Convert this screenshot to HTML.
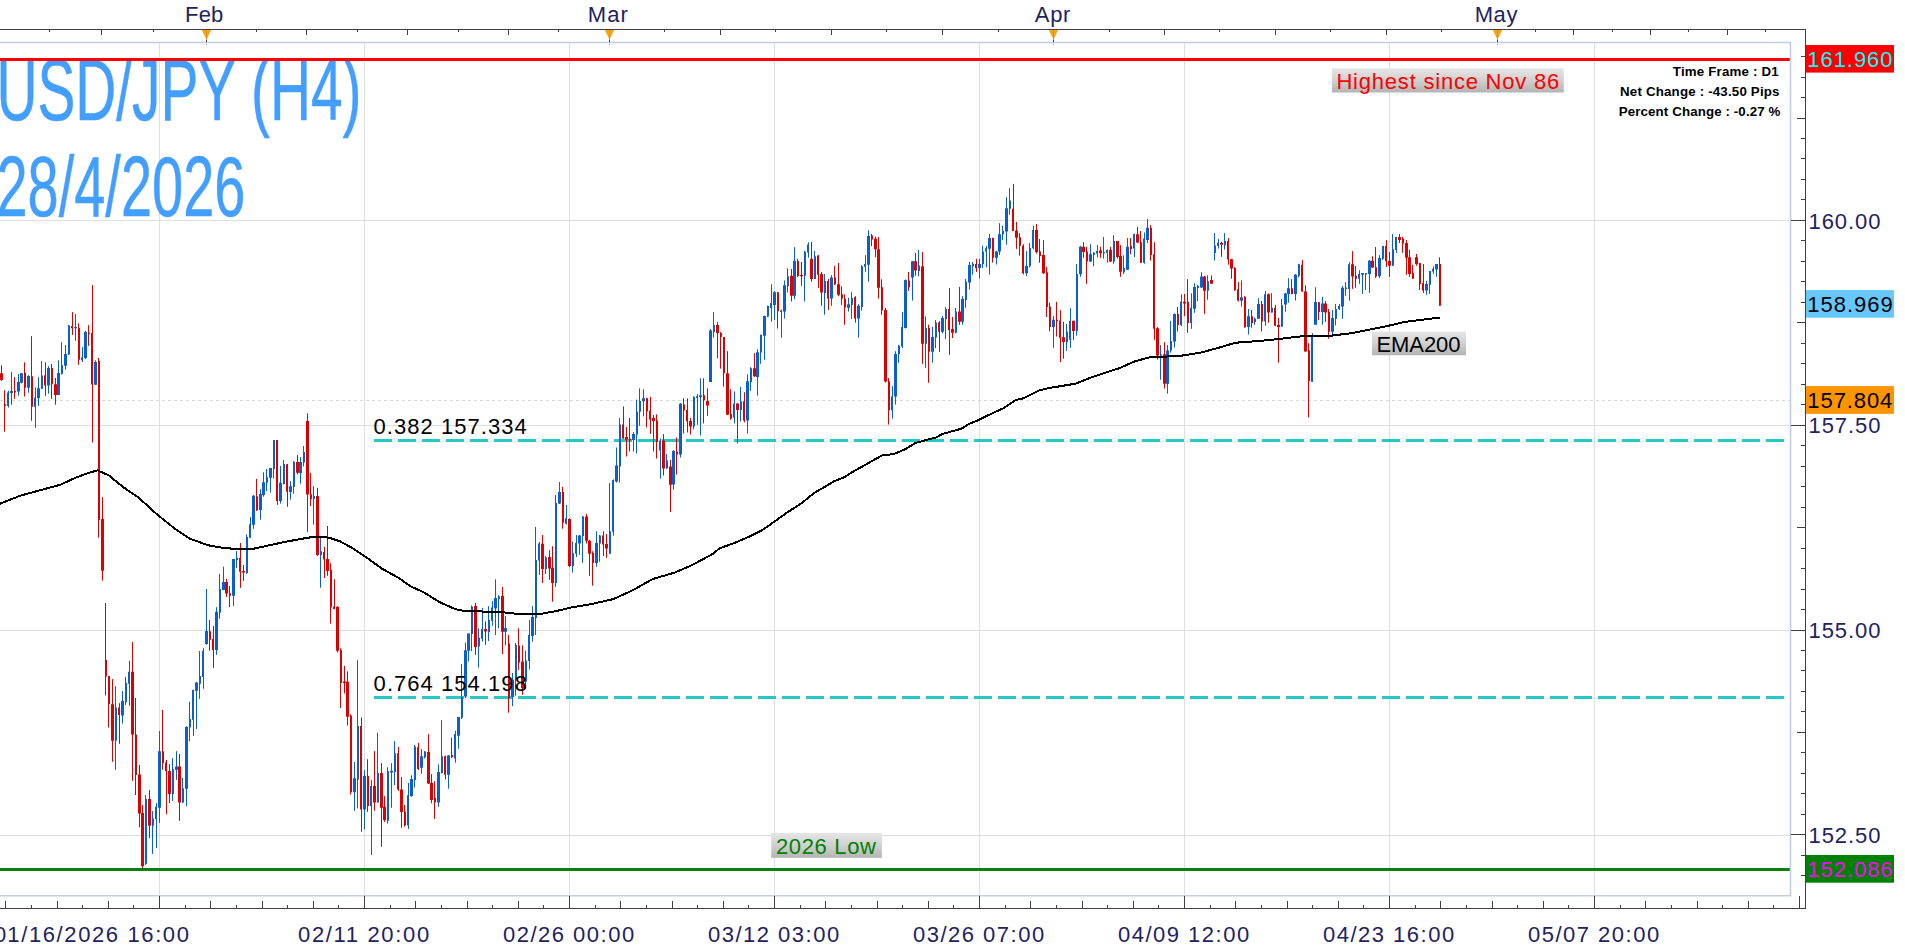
<!DOCTYPE html>
<html><head><meta charset="utf-8"><title>USD/JPY (H4)</title>
<style>
html,body{margin:0;padding:0;background:#fff;overflow:hidden}
body{width:1905px;height:947px;position:relative;font-family:"Liberation Sans",sans-serif}
svg text{font-family:"Liberation Sans",sans-serif}
</style></head><body>
<svg width="1905" height="947" viewBox="0 0 1905 947" style="position:absolute;left:0;top:0;display:block" font-family="Liberation Sans, sans-serif">
<defs>
<linearGradient id="gl" x1="0" y1="0" x2="0" y2="1"><stop offset="0" stop-color="#e6e6e6"/><stop offset="0.5" stop-color="#d0d0d0"/><stop offset="1" stop-color="#b4b4b4"/></linearGradient>
<clipPath id="plot"><rect x="0" y="43" width="1790" height="852.5"/></clipPath>
<clipPath id="tclip"><rect x="0" y="59" width="600" height="300"/></clipPath>
</defs>
<rect x="0" y="0" width="1905" height="947" fill="#ffffff"/>
<path d="M159.5 43V895 M364.5 43V895 M569.5 43V895 M774.5 43V895 M979.5 43V895 M1184.5 43V895 M1389.5 43V895 M1594.5 43V895 M0 220.5H1790 M0 425.5H1790 M0 630.5H1790 M0 835.5H1790" stroke="#dedede" stroke-width="1" fill="none" shape-rendering="crispEdges"/>
<path d="M0 400.5H1790" stroke="#d8d8d8" stroke-width="1" stroke-dasharray="3 3" fill="none" shape-rendering="crispEdges"/>
<g font-family="Liberation Sans" fill="#429eff" stroke="#429eff" stroke-width="0.5" clip-path="url(#tclip)">
<text x="-3.6" y="120" font-size="86.6" textLength="365" lengthAdjust="spacingAndGlyphs">USD/JPY (H4)</text>
<text x="-3.6" y="215.7" font-size="85.5" textLength="249" lengthAdjust="spacingAndGlyphs">28/4/2026</text>
</g>
<path d="M374 440.5H1785" stroke="#27c7c6" stroke-width="3" stroke-dasharray="18 6" fill="none" shape-rendering="crispEdges"/>
<path d="M374 697.5H1785" stroke="#27c7c6" stroke-width="3" stroke-dasharray="18 6" fill="none" shape-rendering="crispEdges"/>
<g clip-path="url(#plot)"><path d="M1.5 365.3V380.9M4.5 390.2V431.6M14.5 377.2V398.8M24.5 362.3V396.6M31.5 336.1V420.8M45.5 362.3V395.8M51.5 364.0V398.8M55.5 378.0V404.7M72.5 312.1V334.9M78.5 323.4V364.8M88.5 325.1V345.9M92.5 285.1V442.5M98.5 358.0V537.7M102.5 497.2V580.6M105.5 603.0V695.5M108.5 676.0V727.5M112.5 679.1V761.8M119.5 703.2V743.8M132.5 641.9V780.8M135.5 698.0V795.0M139.5 765.1V827.3M142.5 805.0V868.0M149.5 789.9V838.0M162.5 710.0V769.8M166.5 759.9V814.2M169.5 764.1V803.0M179.5 754.0V820.9M209.5 619.9V650.7M213.5 625.9V667.9M226.5 578.9V597.0M229.5 586.0V607.1M240.5 543.0V587.8M243.5 565.0V580.9M256.5 478.9V511.0M277.5 440.1V504.8M287.5 463.9V506.8M297.5 454.9V474.4M307.5 413.2V531.8M310.5 473.0V506.0M317.5 487.9V556.0M324.5 546.9V578.0M327.5 526.0V575.8M330.5 563.3V623.6M334.5 579.3V609.3M337.5 606.1V652.4M340.5 648.3V708.1M344.5 666.0V693.4M347.5 671.4V725.5M350.5 714.3V794.5M361.5 717.4V831.7M367.5 759.2V811.9M374.5 751.1V810.8M381.5 763.1V846.8M384.5 796.1V821.9M398.5 746.9V791.0M401.5 777.1V827.7M404.5 805.0V826.6M418.5 742.9V770.1M428.5 734.1V784.1M431.5 774.1V803.3M434.5 781.3V818.9M445.5 755.5V779.4M451.5 737.6V758.0M475.5 603.0V654.9M485.5 621.3V644.8M502.5 586.9V654.0M508.5 635.0V712.7M518.5 628.3V670.1M522.5 645.4V694.8M542.5 535.0V583.0M549.5 550.1V579.9M552.5 546.2V601.8M562.5 486.9V528.7M569.5 518.3V567.2M586.5 513.9V543.5M589.5 539.9V575.8M592.5 551.2V585.6M603.5 531.3V556.0M606.5 534.0V557.8M623.5 406.4V438.5M626.5 427.0V456.5M629.5 418.0V451.5M646.5 397.7V427.4M650.5 396.9V433.9M653.5 415.0V451.5M656.5 414.4V458.5M663.5 434.1V475.6M670.5 459.9V512.0M676.5 437.5V474.6M683.5 398.3V433.5M687.5 398.3V432.5M690.5 418.0V434.5M703.5 378.3V423.4M707.5 388.3V415.8M717.5 322.1V358.2M720.5 332.1V368.6M723.5 337.1V386.7M727.5 351.2V414.8M730.5 389.3V419.8M737.5 403.4V443.5M744.5 392.3V422.4M754.5 353.2V376.9M777.5 292.2V328.5M791.5 268.9V301.5M797.5 258.8V276.8M801.5 262.0V285.8M811.5 241.9V281.6M818.5 255.0V287.8M821.5 271.9V305.7M828.5 278.9V309.9M834.5 265.8V285.2M838.5 263.0V296.2M841.5 286.3V304.9M844.5 294.3V324.7M855.5 296.2V322.6M871.5 233.9V246.1M875.5 236.6V257.3M878.5 237.0V298.5M881.5 279.3V314.8M885.5 308.0V382.4M888.5 378.0V424.6M908.5 271.9V290.9M915.5 253.1V275.7M922.5 252.0V363.8M928.5 324.7V382.8M939.5 321.1V351.8M949.5 288.0V354.9M952.5 316.9V338.0M959.5 286.9V324.9M976.5 258.8V271.9M992.5 237.7V262.6M1013.5 183.9V231.0M1016.5 221.9V248.9M1019.5 233.1V255.7M1023.5 244.3V274.3M1036.5 224.0V253.6M1039.5 239.0V262.7M1043.5 240.1V273.9M1046.5 266.9V317.0M1049.5 302.8V331.3M1056.5 301.8V336.6M1060.5 310.2V362.0M1063.5 321.8V358.8M1073.5 320.8V339.8M1083.5 242.2V257.8M1086.5 246.8V283.8M1100.5 246.8V257.8M1110.5 246.8V262.0M1117.5 240.9V258.5M1120.5 245.1V276.8M1130.5 238.0V254.2M1137.5 226.8V243.0M1140.5 231.0V262.7M1150.5 225.1V260.6M1154.5 242.2V339.8M1157.5 327.1V359.6M1164.5 342.2V388.6M1177.5 307.0V331.6M1184.5 294.0V316.1M1187.5 279.2V332.8M1204.5 276.0V313.8M1211.5 275.4V283.8M1221.5 241.8V256.8M1228.5 238.2V264.7M1231.5 258.8V278.7M1234.5 267.2V290.9M1238.5 282.1V301.5M1244.5 296.3V327.7M1251.5 310.0V327.7M1261.5 301.0V331.4M1268.5 293.4V322.6M1275.5 304.9V325.8M1278.5 317.9V362.7M1291.5 279.1V294.3M1302.5 260.1V291.7M1305.5 285.3V351.7M1308.5 343.2V417.4M1318.5 301.9V320.1M1325.5 301.0V321.8M1328.5 309.0V338.7M1352.5 251.2V288.9M1355.5 266.0V287.8M1372.5 256.3V268.1M1375.5 247.0V277.9M1386.5 240.2V266.9M1389.5 252.0V276.8M1399.5 234.0V243.0M1402.5 236.9V252.8M1406.5 240.0V274.9M1409.5 249.9V276.8M1412.5 264.9V278.7M1416.5 254.0V265.8M1419.5 263.0V290.0M1423.5 264.0V292.9M1439.5 257.3V305.7" stroke="#dd0000" stroke-width="1" fill="none"/><path d="M8.5 390.7V407.6M11.5 372.1V404.7M18.5 374.1V395.8M21.5 373.0V383.4M28.5 375.2V392.7M35.5 387.3V427.9M38.5 377.2V405.9M41.5 361.1V389.0M48.5 366.2V393.6M58.5 360.3V394.9M61.5 342.2V374.6M65.5 345.1V369.6M68.5 325.1V354.9M75.5 314.1V340.8M82.5 347.1V362.0M85.5 330.7V358.9M95.5 360.3V384.8M115.5 686.3V769.8M122.5 691.0V723.7M125.5 676.9V705.0M129.5 660.8V705.8M145.5 795.0V864.9M152.5 811.0V853.9M156.5 803.2V848.0M159.5 731.0V823.0M172.5 758.2V801.1M176.5 751.2V779.9M182.5 777.8V803.2M186.5 726.1V806.1M189.5 701.8V741.3M193.5 689.5V736.0M196.5 682.0V729.0M199.5 651.0V698.9M203.5 648.2V688.8M206.5 589.0V644.8M216.5 607.1V654.9M219.5 573.8V618.9M223.5 566.7V589.9M233.5 558.9V605.9M236.5 551.0V567.9M246.5 534.4V573.8M250.5 517.1V537.7M253.5 495.0V528.8M260.5 489.1V519.7M263.5 472.2V496.7M266.5 469.0V490.9M270.5 468.1V492.6M273.5 440.1V478.6M280.5 465.9V503.6M283.5 460.0V484.5M290.5 481.1V499.7M293.5 461.2V493.8M300.5 457.1V483.7M303.5 446.0V466.4M313.5 486.2V524.7M320.5 537.7V587.7M354.5 762.0V810.8M357.5 660.2V808.4M364.5 770.1V829.4M371.5 780.1V854.9M377.5 732.9V802.6M387.5 767.3V823.5M391.5 763.1V807.8M394.5 741.1V785.2M408.5 782.9V828.9M411.5 775.2V796.8M414.5 745.0V787.5M421.5 749.2V773.6M424.5 751.1V758.5M438.5 764.3V806.8M441.5 720.2V773.6M448.5 755.0V788.7M455.5 730.6V762.7M458.5 717.1V748.7M461.5 663.9V719.0M465.5 642.6V698.0M468.5 633.4V661.6M471.5 605.5V651.1M478.5 628.3V667.7M482.5 607.8V641.6M488.5 606.1V641.0M492.5 601.1V625.8M495.5 579.3V635.0M498.5 595.1V628.3M505.5 616.0V645.4M512.5 673.0V706.2M515.5 643.0V695.8M525.5 650.7V689.1M529.5 619.8V669.5M532.5 606.1V641.6M535.5 527.0V635.0M539.5 542.0V574.9M545.5 556.0V574.0M555.5 495.0V586.9M559.5 481.9V504.0M566.5 504.9V524.6M572.5 541.7V572.7M576.5 535.0V556.9M579.5 535.0V554.8M582.5 516.0V562.9M596.5 531.3V566.8M599.5 535.0V561.8M609.5 483.0V553.7M613.5 479.4V535.7M616.5 447.5V482.6M619.5 418.0V482.6M633.5 432.0V451.5M636.5 399.7V453.5M639.5 388.3V425.8M643.5 389.3V416.4M660.5 438.5V478.6M666.5 454.1V468.6M673.5 450.1V489.6M680.5 403.0V457.5M693.5 396.3V429.4M697.5 393.9V424.8M700.5 378.3V435.5M710.5 329.1V381.9M713.5 312.0V337.5M734.5 391.3V423.4M740.5 386.9V421.4M747.5 374.3V433.5M750.5 367.2V390.9M757.5 349.2V395.7M760.5 334.5V363.8M764.5 315.7V359.8M767.5 305.6V317.1M771.5 284.2V321.7M774.5 291.1V320.0M781.5 309.5V337.6M784.5 280.4V318.6M787.5 268.3V292.6M794.5 247.2V299.4M804.5 250.8V301.5M808.5 242.3V257.7M814.5 250.8V278.9M824.5 274.0V314.8M831.5 275.1V305.7M848.5 297.9V311.6M851.5 292.2V319.0M858.5 304.2V337.6M861.5 265.1V310.6M865.5 255.2V271.9M868.5 230.3V281.6M892.5 386.2V418.6M895.5 351.2V404.6M898.5 345.0V362.8M902.5 312.0V348.0M905.5 279.5V328.5M912.5 260.9V300.6M918.5 249.9V276.3M925.5 316.3V368.0M932.5 327.0V362.8M935.5 320.1V348.2M942.5 315.9V333.4M945.5 307.0V339.1M955.5 308.0V333.4M962.5 296.2V324.7M965.5 278.9V307.8M969.5 262.0V289.4M972.5 262.0V274.7M979.5 258.8V278.5M982.5 245.7V267.9M986.5 246.1V267.3M989.5 233.9V274.7M996.5 250.8V264.5M999.5 223.2V254.9M1002.5 225.7V240.1M1006.5 197.2V244.7M1009.5 188.1V214.7M1026.5 251.1V276.0M1029.5 243.0V267.5M1033.5 225.7V249.4M1053.5 316.1V347.8M1066.5 324.0V350.8M1070.5 308.1V347.8M1076.5 264.2V335.6M1080.5 245.8V276.8M1090.5 244.1V262.0M1093.5 252.1V266.3M1097.5 245.1V257.4M1103.5 236.9V258.5M1107.5 249.4V262.7M1113.5 235.2V263.7M1123.5 255.3V273.9M1127.5 238.0V270.1M1134.5 233.5V257.0M1144.5 232.5V263.7M1147.5 218.9V243.0M1160.5 345.1V379.7M1167.5 345.1V393.6M1170.5 320.8V352.7M1174.5 313.4V347.7M1181.5 294.4V326.1M1191.5 293.3V328.8M1194.5 283.2V312.8M1197.5 284.9V301.1M1201.5 272.2V288.0M1207.5 275.4V299.7M1214.5 233.1V260.5M1218.5 238.8V248.6M1224.5 233.1V249.5M1241.5 280.4V306.6M1248.5 309.0V334.5M1254.5 317.6V324.7M1258.5 298.1V318.8M1265.5 290.9V325.8M1271.5 293.1V312.5M1281.5 299.0V326.9M1285.5 292.9V311.7M1288.5 278.2V302.7M1295.5 274.0V300.5M1298.5 263.9V277.4M1312.5 333.1V381.8M1315.5 287.2V324.7M1322.5 296.8V324.7M1332.5 310.0V334.0M1335.5 303.9V325.5M1339.5 303.9V310.0M1342.5 286.1V318.8M1345.5 282.1V295.9M1349.5 262.2V300.7M1359.5 270.3V283.8M1362.5 273.1V293.8M1365.5 273.1V290.0M1369.5 260.0V292.9M1379.5 255.1V277.9M1382.5 246.1V260.0M1392.5 234.0V265.8M1396.5 236.9V252.8M1426.5 281.0V294.8M1429.5 271.0V293.9M1433.5 266.3V273.9M1436.5 264.0V276.8" stroke="#0a5fcd" stroke-width="1" fill="none"/><path d="M0 373.3H3V380.0H0ZM4 404.2H6V406.0H4ZM14 391.0H16V392.5H14ZM24 373.0H26V387.7H24ZM31 376.3H33V406.8H31ZM44 375.2H46V385.6H44ZM51 367.9H53V384.3H51ZM54 384.3H57V394.9H54ZM71 326.0H73V328.2H71ZM78 327.7H80V359.8H78ZM88 332.4H90V333.7H88ZM91 332.9H93V384.5H91ZM98 361.0H100V520.0H98ZM101 519.1H104V570.8H101ZM105 660.0H107V676.6H105ZM108 676.0H110V704.0H108ZM111 704.3H114V740.8H111ZM118 707.5H120V714.9H118ZM131 671.8H134V734.5H131ZM135 734.5H137V775.0H135ZM138 774.4H141V813.5H138ZM141 813.0H144V866.0H141ZM148 799.0H151V825.8H148ZM162 751.2H164V763.0H162ZM165 762.4H167V771.3H165ZM168 770.9H171V794.1H168ZM178 766.6H181V802.5H178ZM209 631.3H211V639.7H209ZM212 638.9H214V649.9H212ZM225 582.0H228V593.5H225ZM229 593.2H231V595.8H229ZM239 557.7H241V571.8H239ZM242 570.9H245V572.6H242ZM256 496.3H258V510.2H256ZM276 440.1H278V500.9H276ZM286 464.2H288V491.8H286ZM296 462.0H299V472.7H296ZM306 421.1H309V494.6H306ZM310 494.3H312V498.9H310ZM316 496.0H319V554.9H316ZM323 552.0H325V559.6H323ZM326 559.0H329V570.9H326ZM330 569.8H332V607.4H330ZM333 606.5H335V608.9H333ZM336 606.8H339V650.8H336ZM340 650.0H342V683.0H340ZM343 681.4H346V683.0H343ZM346 681.8H349V716.7H346ZM350 715.5H352V792.2H350ZM360 726.0H362V809.6H360ZM367 775.9H369V806.1H367ZM373 785.9H376V802.6H373ZM380 773.1H383V807.8H380ZM383 806.8H386V820.1H383ZM397 753.2H399V789.4H397ZM400 789.4H403V811.9H400ZM404 811.5H406V825.4H404ZM417 747.3H419V769.0H417ZM427 752.0H430V783.6H427ZM430 782.9H433V799.9H430ZM434 798.0H436V802.6H434ZM444 756.2H446V774.8H444ZM451 755.0H453V757.3H451ZM474 605.9H477V646.9H474ZM484 628.9H487V631.5H484ZM501 596.0H504V631.7H501ZM508 643.5H510V698.0H508ZM518 645.4H520V662.5H518ZM521 661.6H524V688.2H521ZM541 543.8H544V569.0H541ZM548 556.9H551V568.6H548ZM551 567.7H554V583.0H551ZM562 492.0H564V522.8H562ZM568 518.9H571V565.9H568ZM585 516.5H588V540.8H585ZM588 540.8H591V553.7H588ZM592 553.0H594V562.9H592ZM602 535.4H604V544.4H602ZM605 544.0H608V548.5H605ZM622 424.4H624V438.5H622ZM625 437.1H628V439.5H625ZM629 438.5H631V440.5H629ZM646 398.3H648V411.4H646ZM649 410.4H651V419.4H649ZM652 418.0H655V421.0H652ZM656 420.4H658V442.0H656ZM662 440.5H665V468.6H662ZM669 466.6H672V484.8H669ZM676 451.5H678V454.5H676ZM683 404.4H685V410.4H683ZM686 410.0H688V421.4H686ZM689 421.0H692V426.4H689ZM703 395.3H705V400.3H703ZM706 400.9H709V405.4H706ZM716 325.1H719V333.1H716ZM720 333.1H722V337.1H720ZM723 337.1H725V373.2H723ZM726 373.2H729V414.8H726ZM730 414.0H732V418.4H730ZM736 403.4H739V410.0H736ZM743 401.3H745V420.4H743ZM753 368.2H756V376.3H753ZM777 292.2H779V311.2H777ZM790 275.7H793V295.8H790ZM797 260.9H799V276.1H797ZM800 275.1H803V276.3H800ZM810 258.8H813V278.9H810ZM817 255.6H819V274.7H817ZM820 274.0H823V292.6H820ZM827 281.0H829V298.5H827ZM834 277.4H836V284.2H834ZM837 284.2H840V294.7H837ZM841 294.3H843V298.5H841ZM844 298.9H846V307.4H844ZM854 297.3H856V318.6H854ZM871 235.6H873V239.4H871ZM874 238.7H877V249.3H874ZM877 249.3H880V287.8H877ZM881 287.3H883V310.6H881ZM884 310.1H887V381.5H884ZM888 381.2H890V410.3H888ZM908 280.4H910V286.9H908ZM914 261.3H917V270.4H914ZM921 266.2H924V343.7H921ZM928 327.9H930V351.8H928ZM938 322.6H940V331.7H938ZM948 309.1H950V330.0H948ZM951 329.0H954V332.8H951ZM958 311.6H961V321.8H958ZM975 264.1H977V268.3H975ZM992 238.1H994V257.7H992ZM1012 208.8H1014V231.0H1012ZM1015 230.4H1018V237.8H1015ZM1019 237.3H1021V245.8H1019ZM1022 245.8H1024V273.2H1022ZM1035 229.9H1038V252.1H1035ZM1039 251.5H1041V256.3H1039ZM1042 254.9H1045V273.2H1042ZM1046 272.2H1048V307.0H1046ZM1049 306.4H1051V327.1H1049ZM1056 319.7H1058V321.2H1056ZM1059 320.4H1061V337.7H1059ZM1062 337.3H1065V341.9H1062ZM1072 320.8H1075V330.9H1072ZM1082 246.8H1085V252.1H1082ZM1086 251.5H1088V261.6H1086ZM1099 250.6H1102V253.2H1099ZM1109 250.0H1112V261.6H1109ZM1116 240.9H1119V257.0H1116ZM1119 255.9H1122V271.8H1119ZM1130 245.8H1132V248.9H1130ZM1136 234.2H1139V242.6H1136ZM1140 242.2H1142V262.7H1140ZM1150 227.8H1152V254.9H1150ZM1153 254.2H1155V328.8H1153ZM1156 328.2H1159V355.4H1156ZM1163 354.3H1166V383.7H1163ZM1177 314.0H1179V325.0H1177ZM1183 301.8H1186V303.5H1183ZM1187 301.8H1189V322.9H1187ZM1203 276.4H1206V290.8H1203ZM1210 280.0H1213V283.8H1210ZM1220 242.7H1223V244.8H1220ZM1227 241.0H1229V259.6H1227ZM1230 259.3H1233V268.6H1230ZM1234 268.1H1236V290.0H1234ZM1237 289.2H1239V300.7H1237ZM1244 296.8H1246V327.2H1244ZM1251 316.2H1253V323.0H1251ZM1261 304.1H1263V321.6H1261ZM1267 294.3H1270V312.5H1267ZM1274 307.8H1276V325.8H1274ZM1277 325.0H1280V326.9H1277ZM1291 288.3H1293V293.9H1291ZM1301 264.7H1303V291.4H1301ZM1304 291.4H1307V351.4H1304ZM1308 350.3H1310V381.3H1308ZM1318 302.2H1320V312.0H1318ZM1324 303.5H1327V312.5H1324ZM1328 312.0H1330V331.8H1328ZM1351 264.2H1354V276.5H1351ZM1355 275.7H1357V278.7H1355ZM1371 260.8H1374V267.6H1371ZM1375 267.2H1377V276.5H1375ZM1385 246.1H1387V261.3H1385ZM1388 261.0H1391V265.8H1388ZM1398 236.9H1401V240.0H1398ZM1402 238.8H1404V243.5H1402ZM1405 243.0H1408V257.8H1405ZM1408 257.3H1411V273.9H1408ZM1412 273.0H1414V278.7H1412ZM1415 257.3H1418V264.0H1415ZM1419 263.0H1421V283.9H1419ZM1422 283.0H1424V290.5H1422ZM1439 264.0H1441V305.7H1439Z" fill="#dd0000"/><path d="M7 392.4H9V405.9H7ZM10 391.0H13V392.9H10ZM17 381.9H20V391.5H17ZM20 373.3H23V382.8H20ZM27 376.0H30V387.7H27ZM34 397.5H36V406.8H34ZM37 388.2H40V398.0H37ZM41 375.5H43V388.7H41ZM47 367.9H50V385.6H47ZM57 373.0H60V394.9H57ZM61 365.3H63V373.8H61ZM64 354.0H67V365.7H64ZM68 325.6H70V354.4H68ZM74 327.0H77V328.3H74ZM81 357.4H83V360.3H81ZM84 331.9H87V358.1H84ZM94 362.0H97V384.8H94ZM115 707.5H117V740.8H115ZM121 701.1H124V715.5H121ZM125 682.8H127V702.0H125ZM128 671.8H130V683.7H128ZM145 799.0H147V863.8H145ZM152 818.4H154V825.8H152ZM155 806.8H157V819.0H155ZM158 751.2H161V807.8H158ZM172 769.2H174V794.1H172ZM175 766.6H178V769.8H175ZM182 788.2H184V802.5H182ZM185 726.9H188V788.8H185ZM189 719.1H191V727.5H189ZM192 690.1H194V719.7H192ZM195 682.5H198V690.7H195ZM199 676.0H201V683.7H199ZM202 650.7H204V676.9H202ZM205 630.9H208V643.9H205ZM215 611.8H218V649.9H215ZM219 589.0H221V612.7H219ZM222 581.9H225V589.9H222ZM232 558.9H235V595.8H232ZM236 557.7H238V560.3H236ZM246 536.9H248V573.0H246ZM249 524.2H251V537.7H249ZM252 495.8H255V524.7H252ZM259 494.1H262V509.9H259ZM262 482.3H265V495.0H262ZM266 477.2H268V482.8H266ZM269 468.1H272V477.7H269ZM273 440.1H275V469.0H273ZM279 482.8H282V500.9H279ZM283 463.9H285V484.0H283ZM289 486.2H292V492.1H289ZM293 461.7H295V487.0H293ZM299 462.0H302V473.0H299ZM303 451.9H305V462.5H303ZM313 496.0H315V498.9H313ZM320 551.3H322V555.0H320ZM353 778.2H356V792.2H353ZM357 726.0H359V779.4H357ZM363 775.9H366V809.6H363ZM370 785.9H372V806.1H370ZM377 773.1H379V802.6H377ZM387 771.3H389V820.8H387ZM390 770.8H393V772.4H390ZM394 753.2H396V772.0H394ZM407 795.2H409V825.4H407ZM410 778.9H413V796.1H410ZM414 746.4H416V779.9H414ZM420 756.2H423V767.8H420ZM424 751.5H426V757.3H424ZM437 772.0H440V802.6H437ZM441 756.2H443V772.9H441ZM447 755.5H450V774.8H447ZM454 734.1H456V758.5H454ZM457 717.1H460V735.7H457ZM461 696.9H463V717.8H461ZM464 650.2H467V696.5H464ZM467 633.4H470V650.7H467ZM471 606.5H473V634.0H471ZM478 637.8H480V646.4H478ZM481 628.9H483V638.8H481ZM488 620.1H490V632.1H488ZM491 607.4H493V620.7H491ZM494 597.9H497V608.4H494ZM498 596.4H500V598.9H498ZM504 627.9H507V631.7H504ZM511 679.5H514V697.0H511ZM515 645.0H517V679.5H515ZM525 660.6H527V681.5H525ZM528 635.0H530V661.0H528ZM531 616.9H534V635.9H531ZM535 559.9H537V617.9H535ZM538 543.5H540V560.5H538ZM545 557.5H547V569.0H545ZM555 503.1H557V583.0H555ZM558 492.0H561V503.6H558ZM565 518.3H567V523.7H565ZM572 553.3H574V565.9H572ZM575 542.9H577V553.7H575ZM578 535.4H581V543.5H578ZM582 516.5H584V535.9H582ZM595 542.9H598V562.9H595ZM599 535.4H601V543.5H599ZM609 531.3H611V553.7H609ZM612 480.1H614V531.8H612ZM615 465.6H618V481.6H615ZM619 424.4H621V466.6H619ZM632 434.1H635V440.1H632ZM636 411.4H638V434.5H636ZM639 400.9H641V411.8H639ZM642 398.3H645V401.3H642ZM659 440.5H661V450.5H659ZM666 460.5H668V468.6H666ZM672 450.9H675V484.6H672ZM679 403.8H682V454.5H679ZM693 396.9H695V426.4H693ZM696 396.3H698V397.9H696ZM699 395.3H702V396.9H699ZM709 330.5H712V381.9H709ZM713 325.1H715V332.1H713ZM733 403.4H735V417.4H733ZM740 401.3H742V410.0H740ZM746 381.3H749V420.4H746ZM750 368.2H752V381.9H750ZM756 352.2H759V376.9H756ZM760 335.1H762V352.6H760ZM763 316.1H766V335.7H763ZM767 306.0H769V316.5H767ZM770 303.0H772V308.0H770ZM773 292.2H776V304.9H773ZM780 310.6H782V312.0H780ZM783 285.2H786V311.6H783ZM787 276.3H789V286.3H787ZM793 260.9H796V295.8H793ZM804 251.8H806V275.7H804ZM807 244.4H809V252.5H807ZM814 256.3H816V278.9H814ZM824 281.0H826V293.0H824ZM830 277.4H833V298.5H830ZM847 304.2H850V307.8H847ZM851 297.9H853V304.9H851ZM857 305.7H860V318.6H857ZM861 266.2H863V307.0H861ZM864 264.1H866V266.8H864ZM867 236.0H870V264.7H867ZM891 396.4H893V410.3H891ZM894 353.9H897V396.4H894ZM898 345.4H900V354.3H898ZM901 327.0H903V346.5H901ZM904 279.9H907V327.9H904ZM911 261.3H914V277.4H911ZM918 265.6H920V271.1H918ZM925 327.9H927V343.7H925ZM931 337.0H934V351.8H931ZM935 322.6H937V337.6H935ZM941 318.0H944V331.7H941ZM945 309.1H947V319.0H945ZM955 311.6H957V332.8H955ZM961 298.9H964V321.8H961ZM965 281.6H967V300.0H965ZM968 265.1H971V282.5H968ZM972 263.7H974V266.2H972ZM978 264.1H981V267.9H978ZM982 251.4H984V264.1H982ZM985 248.2H987V251.4H985ZM988 238.1H991V248.7H988ZM995 251.4H998V257.7H995ZM998 234.2H1001V251.5H998ZM1002 231.0H1004V234.2H1002ZM1005 208.2H1008V231.6H1005ZM1009 200.4H1011V208.8H1009ZM1025 265.9H1028V273.2H1025ZM1029 247.9H1031V266.3H1029ZM1032 229.9H1034V248.3H1032ZM1052 319.7H1055V327.1H1052ZM1066 331.4H1068V341.9H1066ZM1069 320.8H1071V339.8H1069ZM1076 273.9H1078V330.9H1076ZM1079 246.8H1082V274.3H1079ZM1089 254.2H1092V261.6H1089ZM1093 252.8H1095V254.9H1093ZM1096 251.1H1098V253.6H1096ZM1103 252.0H1105V253.2H1103ZM1106 250.0H1108V252.8H1106ZM1113 240.9H1115V261.6H1113ZM1123 268.0H1125V272.2H1123ZM1126 246.8H1129V269.7H1126ZM1133 234.2H1135V248.5H1133ZM1143 238.4H1145V262.7H1143ZM1146 227.8H1149V240.1H1146ZM1160 354.2H1162V355.5H1160ZM1166 350.6H1169V383.7H1166ZM1170 341.1H1172V350.6H1170ZM1173 314.0H1176V341.6H1173ZM1180 301.8H1182V325.0H1180ZM1190 307.7H1192V322.9H1190ZM1193 287.0H1196V308.7H1193ZM1197 285.9H1199V288.0H1197ZM1200 276.4H1203V287.6H1200ZM1207 281.3H1209V290.8H1207ZM1214 245.5H1216V252.9H1214ZM1217 242.7H1219V246.0H1217ZM1224 241.0H1226V245.3H1224ZM1240 297.3H1243V300.7H1240ZM1247 316.2H1250V326.9H1247ZM1254 318.8H1256V322.1H1254ZM1257 304.1H1260V318.8H1257ZM1264 294.3H1266V321.6H1264ZM1271 307.8H1273V312.5H1271ZM1281 305.2H1283V326.4H1281ZM1284 293.4H1287V304.4H1284ZM1287 288.3H1290V293.9H1287ZM1294 274.8H1297V293.9H1294ZM1298 264.2H1300V275.7H1298ZM1311 336.5H1313V381.8H1311ZM1314 301.9H1317V324.7H1314ZM1321 303.5H1324V312.0H1321ZM1331 317.9H1334V331.8H1331ZM1335 309.0H1337V318.8H1335ZM1338 306.1H1340V309.0H1338ZM1341 287.8H1344V306.6H1341ZM1345 287.5H1347V288.9H1345ZM1348 264.2H1350V288.9H1348ZM1358 274.0H1360V278.7H1358ZM1361 273.1H1364V274.8H1361ZM1365 273.1H1367V274.5H1365ZM1368 260.8H1371V274.0H1368ZM1378 257.9H1381V276.2H1378ZM1382 246.1H1384V258.8H1382ZM1392 249.2H1394V265.8H1392ZM1395 236.9H1397V249.9H1395ZM1425 283.9H1428V290.5H1425ZM1429 271.0H1431V284.8H1429ZM1432 268.7H1434V271.5H1432ZM1435 264.0H1438V269.6H1435Z" fill="#0a5fcd"/></g>
<path d="M-2.0 504.5 L20.3 495.7 L40.5 490.1 L60.8 484.6 L76.0 477.5 L88.6 472.9 L97.5 470.4 L108.9 475.4 L120.0 484.6 L123.8 487.5 L139.0 498.0 L157.6 514.9 L174.5 528.4 L189.7 538.6 L208.3 545.3 L225.2 548.2 L242.1 549.2 L252.2 549.0 L267.5 545.7 L284.4 542.0 L301.3 538.9 L313.0 536.9 L323.2 536.9 L330.0 538.0 L339.9 541.3 L353.2 548.5 L364.6 556.1 L381.7 568.5 L398.8 578.0 L410.2 586.1 L423.5 592.2 L440.6 602.7 L455.8 609.3 L463.4 610.8 L490.0 611.8 L509.0 612.7 L520.4 614.4 L538.0 614.4 L555.9 611.1 L570.3 607.7 L591.8 604.0 L613.3 599.1 L631.3 591.0 L652.8 579.0 L674.4 572.7 L692.3 565.0 L713.9 553.3 L719.2 548.5 L735.4 542.6 L749.8 536.3 L762.2 530.2 L774.8 521.3 L787.3 512.4 L802.1 502.8 L813.9 493.2 L822.8 488.0 L834.6 480.9 L843.5 477.7 L852.4 472.1 L870.1 462.1 L882.0 455.5 L893.8 454.0 L904.4 449.6 L915.8 442.9 L925.9 440.1 L936.0 437.6 L942.4 434.0 L961.4 428.7 L969.0 424.0 L979.1 419.8 L991.8 413.5 L1003.2 408.4 L1015.9 399.9 L1023.5 398.3 L1039.9 390.1 L1050.1 387.9 L1075.4 383.7 L1093.1 376.7 L1100.0 374.5 L1120.0 368.0 L1133.7 361.7 L1150.6 357.0 L1162.2 356.8 L1181.3 355.7 L1200.3 352.7 L1216.9 348.3 L1235.5 342.7 L1246.7 342.0 L1267.6 340.2 L1304.7 336.0 L1331.8 335.6 L1352.0 333.1 L1368.9 329.7 L1385.8 326.4 L1404.2 322.0 L1422.0 319.8 L1439.7 317.6" stroke="#000" stroke-width="2" fill="none" stroke-linejoin="round" shape-rendering="crispEdges" clip-path="url(#plot)"/>
<rect x="0" y="58" width="1790" height="3" fill="#ff0000"/>
<rect x="0" y="868" width="1790" height="3" fill="#0a800a"/>
<path d="M0 42.5H1790.5V895.7H0" stroke="#c3cde0" stroke-width="1.6" fill="none"/>
<path d="M0 29.5H1805.5V908.5H0 M49.5 30V32 M101.5 30V35 M153.5 30V32 M256.5 30V32 M306.5 30V35 M357.5 30V32 M407.5 30V35 M458.5 30V32 M508.5 30V35 M558.5 30V32 M664.5 30V32 M720.5 30V35 M775.5 30V32 M831.5 30V35 M886.5 30V32 M942.5 30V35 M998.5 30V32 M1109.5 30V32 M1164.5 30V35 M1219.5 30V32 M1275.5 30V35 M1330.5 30V32 M1386.5 30V35 M1441.5 30V32 M1535.5 30V32 M1573.5 30V35 M1612.5 30V32 M1650.5 30V35 M1688.5 30V32 M1727.5 30V35 M1765.5 30V32 M5.5 901V908 M31.5 905V908 M57.5 901V908 M82.5 905V908 M108.5 901V908 M133.5 905V908 M159.5 896V908 M185.5 905V908 M210.5 901V908 M236.5 905V908 M262.5 901V908 M287.5 905V908 M313.5 901V908 M338.5 905V908 M364.5 896V908 M390.5 905V908 M415.5 901V908 M441.5 905V908 M467.5 901V908 M492.5 905V908 M518.5 901V908 M543.5 905V908 M569.5 896V908 M595.5 905V908 M620.5 901V908 M646.5 905V908 M672.5 901V908 M697.5 905V908 M723.5 901V908 M748.5 905V908 M774.5 896V908 M800.5 905V908 M825.5 901V908 M851.5 905V908 M877.5 901V908 M902.5 905V908 M928.5 901V908 M953.5 905V908 M979.5 896V908 M1005.5 905V908 M1030.5 901V908 M1056.5 905V908 M1082.5 901V908 M1107.5 905V908 M1133.5 901V908 M1158.5 905V908 M1184.5 896V908 M1210.5 905V908 M1235.5 901V908 M1261.5 905V908 M1287.5 901V908 M1312.5 905V908 M1338.5 901V908 M1363.5 905V908 M1389.5 896V908 M1415.5 905V908 M1440.5 901V908 M1466.5 905V908 M1492.5 901V908 M1517.5 905V908 M1543.5 901V908 M1568.5 905V908 M1594.5 896V908 M1620.5 905V908 M1645.5 901V908 M1671.5 905V908 M1697.5 901V908 M1722.5 905V908 M1748.5 901V908 M1773.5 905V908 M1799.5 896V908 M1801 56.5H1805 M1801 77.5H1805 M1801 97.5H1805 M1797 118.5H1805 M1801 138.5H1805 M1801 158.5H1805 M1801 179.5H1805 M1801 199.5H1805 M1791 220.5H1805 M1801 240.5H1805 M1801 261.5H1805 M1801 281.5H1805 M1801 302.5H1805 M1797 322.5H1805 M1801 343.5H1805 M1801 363.5H1805 M1801 384.5H1805 M1801 404.5H1805 M1791 425.5H1805 M1801 445.5H1805 M1801 466.5H1805 M1801 486.5H1805 M1801 507.5H1805 M1797 527.5H1805 M1801 548.5H1805 M1801 568.5H1805 M1801 589.5H1805 M1801 609.5H1805 M1791 630.5H1805 M1801 650.5H1805 M1801 670.5H1805 M1801 691.5H1805 M1801 711.5H1805 M1797 732.5H1805 M1801 752.5H1805 M1801 773.5H1805 M1801 793.5H1805 M1801 814.5H1805 M1791 834.5H1805 M1801 855.5H1805 M1801 875.5H1805" stroke="#404040" stroke-width="1" fill="none" shape-rendering="crispEdges"/>
<path d="M201.8 30H211.2L207.0 38.6H206.0Z" fill="#f7a31c"/>
<path d="M206.5 30V40" stroke="#e8920a" stroke-width="1" fill="none"/>
<path d="M206.5 40V42" stroke="#33333f" stroke-width="1" fill="none"/>
<path d="M206.5 43V45" stroke="#c8c8c8" stroke-width="1" fill="none"/>
<path d="M604.8 30H614.2L610.0 38.6H609.0Z" fill="#f7a31c"/>
<path d="M609.5 30V40" stroke="#e8920a" stroke-width="1" fill="none"/>
<path d="M609.5 40V42" stroke="#33333f" stroke-width="1" fill="none"/>
<path d="M609.5 43V45" stroke="#c8c8c8" stroke-width="1" fill="none"/>
<path d="M1048.8 30H1058.2L1054.0 38.6H1053.0Z" fill="#f7a31c"/>
<path d="M1053.5 30V40" stroke="#e8920a" stroke-width="1" fill="none"/>
<path d="M1053.5 40V42" stroke="#33333f" stroke-width="1" fill="none"/>
<path d="M1053.5 43V45" stroke="#c8c8c8" stroke-width="1" fill="none"/>
<path d="M1492.8 30H1502.2L1498.0 38.6H1497.0Z" fill="#f7a31c"/>
<path d="M1497.5 30V40" stroke="#e8920a" stroke-width="1" fill="none"/>
<path d="M1497.5 40V42" stroke="#33333f" stroke-width="1" fill="none"/>
<path d="M1497.5 43V45" stroke="#c8c8c8" stroke-width="1" fill="none"/>
<rect x="1806" y="45" width="88" height="27.6" fill="#ff0000"/>
<text x="1807.35" y="66.6" font-size="22" fill="#00ffff" letter-spacing="0.932">161.960</text>
<rect x="1806" y="290.1" width="88" height="27.6" fill="#66c8ff"/>
<text x="1807.35" y="311.5" font-size="22" fill="#000000" letter-spacing="0.968">158.969</text>
<rect x="1806" y="386.1" width="88" height="27.7" fill="#ff9400"/>
<text x="1807.35" y="407.5" font-size="22" fill="#000000" letter-spacing="0.913">157.804</text>
<rect x="1806" y="855" width="88" height="27.7" fill="#008000"/>
<text x="1807.35" y="876.5" font-size="22" fill="#ff00ff" letter-spacing="0.950">152.086</text>
<text x="1808.45" y="228.6" font-size="22" fill="#22225f" letter-spacing="0.960">160.00</text>
<text x="1808.45" y="433.4" font-size="22" fill="#22225f" letter-spacing="0.960">157.50</text>
<text x="1808.45" y="638.2" font-size="22" fill="#22225f" letter-spacing="0.960">155.00</text>
<text x="1808.45" y="843.0" font-size="22" fill="#22225f" letter-spacing="0.960">152.50</text>
<text x="185.04" y="21.6" font-size="22" fill="#22225f" letter-spacing="0.200">Feb</text>
<text x="587.74" y="21.6" font-size="22" fill="#22225f" letter-spacing="1.125">Mar</text>
<text x="1034.80" y="21.6" font-size="22" fill="#22225f" letter-spacing="0.660">Apr</text>
<text x="1474.74" y="21.6" font-size="22" fill="#22225f" letter-spacing="0.540">May</text>
<text x="7.35" y="941.6" font-size="22" fill="#22225f" letter-spacing="1.611">1/16/2026 16:00</text>
<text x="-6.08" y="941.6" font-size="22" fill="#22225f" letter-spacing="0.000">0</text>
<text x="298.02" y="941.6" font-size="22" fill="#22225f" letter-spacing="1.654">02/11 20:00</text>
<text x="503.02" y="941.6" font-size="22" fill="#22225f" letter-spacing="1.489">02/26 00:00</text>
<text x="708.02" y="941.6" font-size="22" fill="#22225f" letter-spacing="1.489">03/12 03:00</text>
<text x="913.02" y="941.6" font-size="22" fill="#22225f" letter-spacing="1.489">03/26 07:00</text>
<text x="1118.02" y="941.6" font-size="22" fill="#22225f" letter-spacing="1.489">04/09 12:00</text>
<text x="1323.02" y="941.6" font-size="22" fill="#22225f" letter-spacing="1.489">04/23 16:00</text>
<text x="1528.02" y="941.6" font-size="22" fill="#22225f" letter-spacing="1.489">05/07 20:00</text>
<text x="1672.87" y="75.7" font-size="13.3" fill="#000" font-weight="bold" letter-spacing="0.183">Time Frame : D1</text>
<text x="1620.04" y="95.5" font-size="13.3" fill="#000" font-weight="bold" letter-spacing="0.186">Net Change : -43.50 Pips</text>
<text x="1618.74" y="115.5" font-size="13.3" fill="#000" font-weight="bold" letter-spacing="0.120">Percent Change : -0.27 %</text>
<rect x="1332" y="68.2" width="231.8" height="24.3" fill="url(#gl)"/>
<text x="1336.44" y="88.8" font-size="22" fill="#ff0000" letter-spacing="0.786">Highest since Nov 86</text>
<rect x="1372" y="331.6" width="94.0" height="23.7" fill="url(#gl)"/>
<text x="1376.54" y="352.0" font-size="22" fill="#000000" letter-spacing="-0.088">EMA200</text>
<rect x="771.2" y="833" width="110.7" height="24.8" fill="url(#gl)"/>
<text x="775.90" y="853.8" font-size="22" fill="#008000" letter-spacing="0.660">2026 Low</text>
<text x="373.62" y="433.6" font-size="22" fill="#000" letter-spacing="1.029">0.382 157.334</text>
<text x="373.62" y="690.8" font-size="22" fill="#000" letter-spacing="1.047">0.764 154.198</text>
</svg>
</body></html>
